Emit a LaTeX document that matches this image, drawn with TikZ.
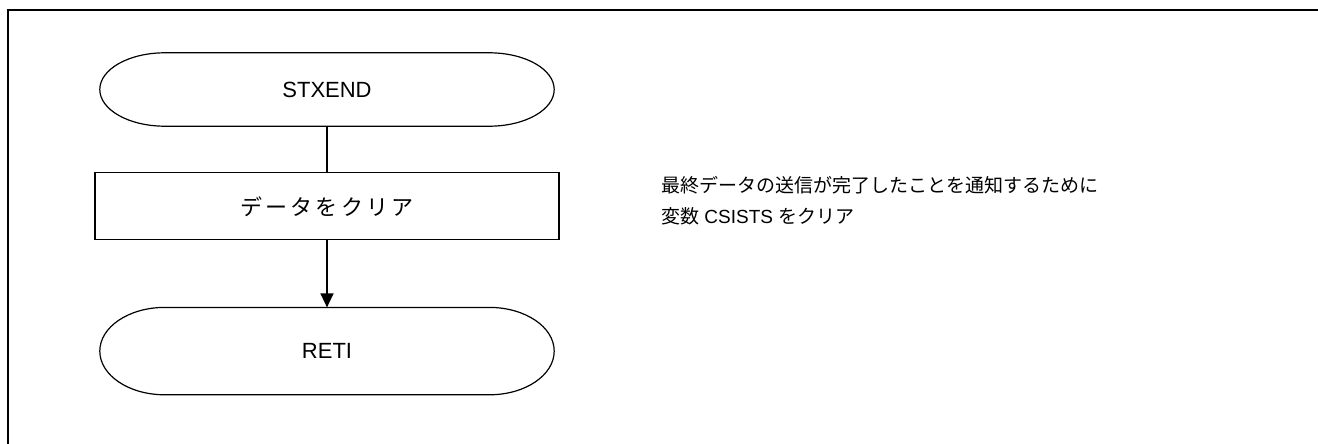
\documentclass[tikz,border=0pt]{standalone}
\usepackage{fontspec}
\setmainfont{Liberation Sans}
\newfontfamily\jp{Noto Sans CJK JP}
\newfontfamily\jpwide[LetterSpace=14]{Noto Sans CJK JP}
\usetikzlibrary{positioning,arrows.meta,calc}
\tikzset{
>={Triangle[width=13pt,length=14pt]},
every node/.style={inner sep=0pt},
terminal/.style={minimum width=454pt, font=\fontsize{22}{26}\selectfont},
process/.style={draw, line width=1.2pt, minimum width=464pt, minimum height=67pt, font=\jpwide\fontsize{22}{26}\selectfont},
flow/.style={line width=1.5pt},
outline/.style={line width=1.2pt},
}
% oval ends of a terminal node
\newcommand{\termline}[1]{%
  \draw[outline] ([xshift=65pt]#1.north west) -- ([xshift=-65pt]#1.north east)
    .. controls ([xshift=-29pt]#1.north east) and ($(#1.east)!0.552!(#1.north east)$) .. (#1.east)
    .. controls ($(#1.east)!0.552!(#1.south east)$) and ([xshift=-29pt]#1.south east) .. ([xshift=-65pt]#1.south east)
    -- ([xshift=65pt]#1.south west)
    .. controls ([xshift=29pt]#1.south west) and ($(#1.west)!0.552!(#1.south west)$) .. (#1.west)
    .. controls ($(#1.west)!0.552!(#1.north west)$) and ([xshift=29pt]#1.north west) .. cycle;}

\begin{document}
\begin{tikzpicture}[x=1pt,y=-1pt]

    \useasboundingbox (0,0) rectangle (1318,444);
    \draw[line width=2pt] (1318,10) -- (8,10) -- (8,444);

    \node[terminal,minimum height=73pt] (stxend) at (327,89.5) {STXEND};
    \node[process,below=46pt of stxend] (clr) {データをクリア};
    \node[terminal,minimum height=87pt,below=67pt of clr] (reti) {RETI};
    \termline{stxend}
    \termline{reti}

    \node[anchor=west,align=left,font=\fontsize{19}{31}\selectfont] (note) at (661,201)
        {{\jp 最終データの送信が完了したことを通知するために}\\{\jp 変数} CSISTS {\jp をクリア}};

    \draw[flow] (stxend) -- (clr);
    \draw[flow,->] (clr) -- (reti);

\end{tikzpicture}
\end{document}
